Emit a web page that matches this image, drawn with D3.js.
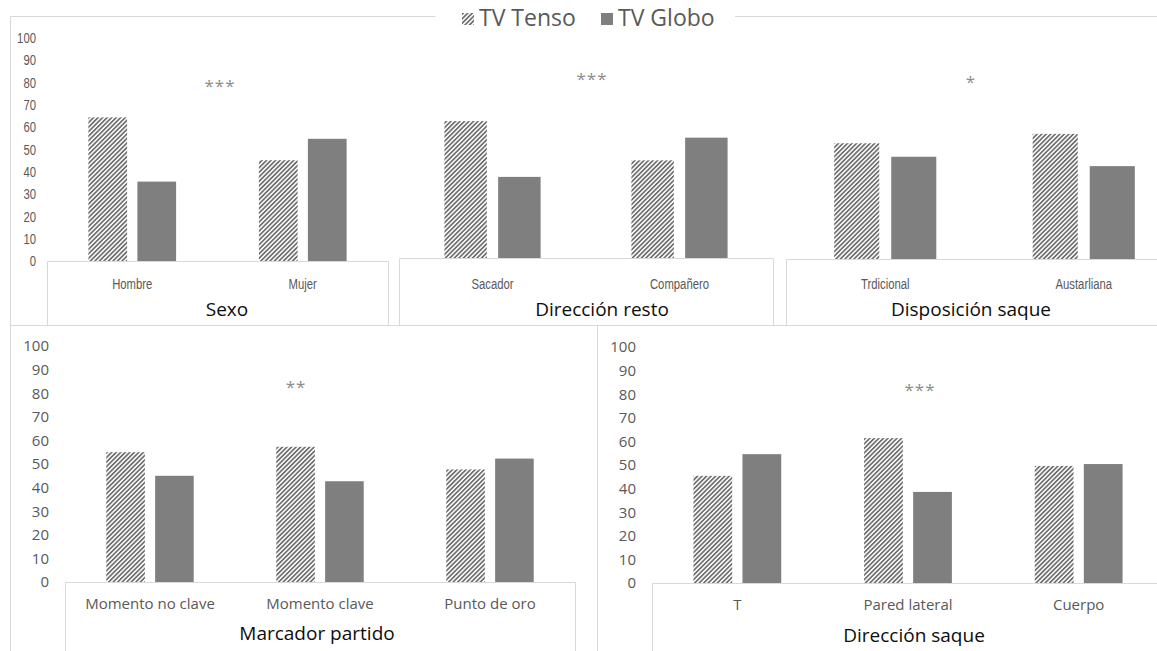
<!DOCTYPE html>
<html><head><meta charset="utf-8">
<script src="https://cdn.jsdelivr.net/npm/d3@7"></script>
<style>
html,body{margin:0;padding:0;background:#fff;}
svg{display:block;}
</style></head><body>
<svg id="chart" width="1157" height="651"></svg>
<script>
// ---- data ----
const seriesNames = ["TV Tenso", "TV Globo"];
const yTickValues = [0, 10, 20, 30, 40, 50, 60, 70, 80, 90, 100];

const sexoCategories = ["Hombre", "Mujer"];
const sexoTenso = [64.4, 45.2];
const sexoGlobo = [35.6, 54.8];

const restoCategories = ["Sacador", "Compañero"];
const restoTenso = [62.8, 44.8];
const restoGlobo = [37.2, 55.2];

const disposicionCategories = ["Trdicional", "Austarliana"];
const disposicionTenso = [53.1, 57.4];
const disposicionGlobo = [46.9, 42.6];

const marcadorCategories = ["Momento no clave", "Momento clave", "Punto de oro"];
const marcadorTenso = [55.0, 57.3, 47.7];
const marcadorGlobo = [45.0, 42.7, 52.3];

const saqueCategories = ["T", "Pared lateral", "Cuerpo"];
const saqueTenso = [45.4, 61.4, 49.6];
const saqueGlobo = [54.6, 38.6, 50.4];

const panelTitles = ["Sexo", "Dirección resto", "Disposición saque", "Marcador partido", "Dirección saque"];
const significance = ["***", "***", "*", "**", "***"];

// ---- layout ----
const FRAME = "#d9d9d9";
const TEXT = "#595959";
const GLOBO = "#7f7f7f";
const SANS = "'Open Sans','Noto Sans',sans-serif";
const ARIAL = "'Liberation Sans',Arial,sans-serif";

const panels = [
  { cats: sexoCategories, tenso: sexoTenso, globo: sexoGlobo, title: panelTitles[0], sig: significance[0],
    box: [47, 388], base: 261, top: 38, boxBottom: 325, axisX: 36, narrow: true, labelY: 284,
    titleX: 227, titleY: 316, sigX: 220, sigY: 92 },
  { cats: restoCategories, tenso: restoTenso, globo: restoGlobo, title: panelTitles[1], sig: significance[1],
    box: [399, 773], base: 258, top: 40, boxBottom: 325, axisX: null, narrow: true, labelY: 284,
    titleX: 602, titleY: 316, sigX: 592, sigY: 85 },
  { cats: disposicionCategories, tenso: disposicionTenso, globo: disposicionGlobo, title: panelTitles[2], sig: significance[2],
    box: [786, 1183], base: 259, top: 41, boxBottom: 325, axisX: null, narrow: true, labelY: 284,
    titleX: 971, titleY: 316, sigX: 971, sigY: 88 },
  { cats: marcadorCategories, tenso: marcadorTenso, globo: marcadorGlobo, title: panelTitles[3], sig: significance[3],
    box: [65, 575], base: 582, top: 346, boxBottom: 660, axisX: 49, narrow: false, labelY: 604,
    titleX: 317, titleY: 640, sigX: 296, sigY: 393 },
  { cats: saqueCategories, tenso: saqueTenso, globo: saqueGlobo, title: panelTitles[4], sig: significance[4],
    box: [652, 1164], base: 583, top: 347, boxBottom: 660, axisX: 636, narrow: false, labelY: 605,
    titleX: 914, titleY: 642, sigX: 920, sigY: 396 }
];

// condensed labels: Arial metrics squeezed horizontally
function styleLabels(sel, narrow) {
  sel.attr("fill", TEXT)
    .style("font-family", narrow ? ARIAL : SANS)
    .style("font-size", narrow ? "14.5px" : "15px");
  if (narrow) sel.attr("transform", "scale(0.78,1)");
}

const svg = d3.select("#chart");

// hatch fill for the "TV Tenso" series
const defs = svg.append("defs");
const pat = defs.append("pattern")
  .attr("id", "hatch")
  .attr("patternUnits", "userSpaceOnUse")
  .attr("width", 3.2).attr("height", 3.2)
  .attr("patternTransform", "rotate(45)");
pat.append("rect").attr("width", 3.2).attr("height", 3.2).attr("fill", "#ffffff");
pat.append("rect").attr("width", 1.7).attr("height", 3.2).attr("fill", "#6e6e6e");

const seriesFill = d3.scaleOrdinal().domain(seriesNames).range(["url(#hatch)", GLOBO]);

// ---- frames ----
const frame = svg.append("g").attr("fill", "none").attr("stroke", FRAME).attr("stroke-width", 1);
frame.append("path").attr("d", "M435.5,16.5H10.5V325.5H1157");
frame.append("path").attr("d", "M735,16.5H1157");
frame.append("path").attr("d", "M10.5,325V651");
frame.append("path").attr("d", "M597.5,325V651");

panels.forEach(p => {
  const y = d3.scaleLinear().domain([0, 100]).range([p.base, p.top]);
  const x0 = d3.scaleBand().domain(p.cats).range(p.box).paddingInner(0).paddingOuter(0);
  const x1 = d3.scaleBand().domain(seriesNames).range([0, x0.bandwidth()])
    .paddingInner(0.21).paddingOuter(0.845);

  const g = svg.append("g");

  // bars
  const rows = p.cats.map((c, i) => ({ cat: c, values: [p.tenso[i], p.globo[i]] }));
  g.selectAll("g.cat").data(rows).join("g")
    .attr("class", "cat")
    .attr("transform", d => `translate(${x0(d.cat)},0)`)
    .selectAll("rect").data(d => seriesNames.map((s, k) => ({ s, v: d.values[k] })))
    .join("rect")
    .attr("x", d => x1(d.s))
    .attr("width", x1.bandwidth())
    .attr("y", d => y(d.v))
    .attr("height", d => y(0) - y(d.v))
    .attr("fill", d => seriesFill(d.s));

  // category box (axis area)
  g.append("path")
    .attr("d", `M${p.box[0] + 0.5},${p.boxBottom}V${p.base + 0.5}H${p.box[1] + 0.5}V${p.boxBottom}`)
    .attr("fill", "none").attr("stroke", FRAME);

  // category labels
  const fs = p.narrow ? 14.5 : 15;
  const xAxis = d3.axisBottom(x0).tickSize(0).tickPadding(p.labelY - p.base - 0.35 * fs);
  const xa = g.append("g").attr("transform", `translate(0,${p.base})`).call(xAxis);
  xa.select(".domain").remove();
  styleLabels(xa.selectAll("text"), p.narrow);

  // value axis
  if (p.axisX !== null) {
    const yAxis = d3.axisLeft(y).tickValues(yTickValues).tickSize(0).tickPadding(0);
    const ya = g.append("g").attr("transform", `translate(${p.axisX},0)`).call(yAxis);
    ya.select(".domain").remove();
    styleLabels(ya.selectAll("text"), p.narrow);
  }

  // panel title
  g.append("text")
    .attr("x", p.titleX).attr("y", p.titleY)
    .attr("text-anchor", "middle")
    .attr("fill", "#0d0d0d")
    .style("font-family", SANS).style("font-size", "19px")
    .text(p.title);

  // significance marker
  g.append("text")
    .attr("x", p.sigX).attr("y", p.sigY)
    .attr("text-anchor", "middle")
    .attr("fill", "#8c8c8c")
    .style("font-family", SANS).style("font-size", "17px")
    .style("letter-spacing", "1px")
    .text(p.sig);
});

// ---- legend ----
const legend = svg.append("g").style("font-family", SANS).style("font-size", "23px");
const legendItems = [
  { name: seriesNames[0], sx: 462, tx: 479 },
  { name: seriesNames[1], sx: 601, tx: 618 }
];
legendItems.forEach(it => {
  legend.append("rect")
    .attr("x", it.sx).attr("y", 13).attr("width", 12).attr("height", 12)
    .attr("fill", seriesFill(it.name));
  legend.append("text")
    .attr("x", it.tx).attr("y", 26)
    .attr("fill", TEXT)
    .text(it.name);
});
</script>
</body></html>
